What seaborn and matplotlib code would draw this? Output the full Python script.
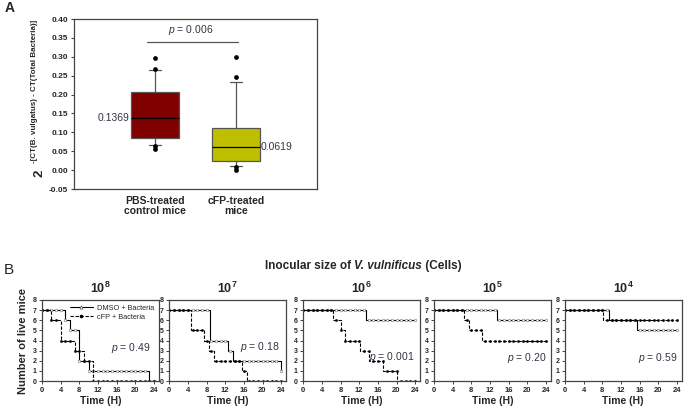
import numpy as np
import pandas as pd
import matplotlib
matplotlib.use('Agg')
import matplotlib.pyplot as plt
from matplotlib.lines import Line2D
import seaborn as sns

# ---------------- Panel A data ----------------
groups = ['PBS-treated\ncontrol mice', 'cFP-treated\nmice']
q1 = [0.085, 0.024]
medians = [0.1369, 0.0619]
q3 = [0.208, 0.112]
whislo = [0.067, 0.012]
whishi = [0.266, 0.234]
fliers = [[0.296, 0.267, 0.065, 0.055], [0.300, 0.246, 0.009, 0.001]]
median_labels = ['0.1369', '0.0619']
box_colors = ['#800000', '#BFBF00']
p_A = '0.006'

# ---------------- Panel B data ----------------
doses = ['8', '7', '6', '5', '4']
dmso_t = [[0, 5, 6, 8, 10, 23], [0, 8.7, 12.7, 13.7, 24], [0, 13.5], [0, 13.6], [0, 9.5, 15.5]]
dmso_n = [[7, 6, 5, 2, 1, 0], [7, 4, 3, 2, 1], [7, 6], [7, 6], [7, 6, 5]]
cfp_t = [[0, 2, 4, 7, 9, 11], [0, 4.6, 7.4, 8.6, 9.6, 15.7, 16.7],
         [0, 6.3, 8.0, 8.9, 12.2, 14.2, 17.2, 20.2], [0, 6.5, 7.6, 10.4], [0, 8.2]]
cfp_n = [[7, 6, 4, 3, 2, 0], [7, 5, 4, 3, 2, 1, 0], [7, 6, 5, 4, 3, 2, 1, 0], [7, 6, 5, 4], [7, 6]]
p_B = ['0.49', '0.18', '0.001', '0.20', '0.59']
p_pos = [(19, 3.3), (19.5, 3.4), (19, 2.4), (20, 2.3), (20, 2.3)]
end_time = 24
title_parts = ['Inocular size of ', 'V. vulnificus', ' (Cells)']

sns.set_style('ticks')
plt.rcParams['font.family'] = ['Liberation Sans', 'DejaVu Sans']
plt.rcParams['mathtext.fontset'] = 'custom'
plt.rcParams['mathtext.rm'] = 'Liberation Sans'
plt.rcParams['mathtext.it'] = 'Liberation Sans:italic'
plt.rcParams['mathtext.bf'] = 'Liberation Sans:bold'

W, H = 685, 408
fig = plt.figure(figsize=(W / 100, H / 100), dpi=100)

def fx(px):
    return px / W

def fy(py):
    return 1 - py / H

spine_col = '#444444'

# ---------------- Panel A ----------------
axA = fig.add_axes([fx(74), fy(189), fx(243), 170 / H])
stats = []
for i in range(len(groups)):
    stats.append(dict(med=medians[i], q1=q1[i], q3=q3[i], whislo=whislo[i],
                      whishi=whishi[i], fliers=fliers[i], label=groups[i]))
bp = axA.bxp(stats, positions=[0, 1], widths=0.59, patch_artist=True,
             boxprops=dict(edgecolor='#555555', linewidth=0.9),
             medianprops=dict(color='black', linewidth=0.9),
             whiskerprops=dict(color='#555555', linewidth=0.9),
             capprops=dict(color='#555555', linewidth=0.9),
             flierprops=dict(marker='o', markerfacecolor='black', markeredgecolor='black', markersize=2.4),
             capwidths=0.15)
for patch, c in zip(bp['boxes'], box_colors):
    patch.set_facecolor(c)
axA.set_xlim(-1, 2)
axA.set_ylim(-0.05, 0.40)
yt = np.round(np.arange(-0.05, 0.401, 0.05), 2)
axA.set_yticks(yt)
axA.set_yticklabels(['%.2f' % v for v in yt], fontsize=6, fontweight='bold')
axA.set_xticks([0, 1])
axA.set_xticklabels(groups, fontsize=7.5, fontweight='bold', linespacing=1.0)
axA.tick_params(axis='x', length=0, pad=5)
axA.tick_params(axis='y', length=2.5, width=0.8, pad=2, color=spine_col)
for s in axA.spines.values():
    s.set_color(spine_col)
    s.set_linewidth(0.9)
axA.plot([-0.1, 1.02], [0.34, 0.34], color='#555555', lw=0.9)
axA.text(0.44, 0.352, r'$\it{p}$ = ' + p_A, ha='center', va='bottom', fontsize=7.5, color='#333344')
axA.text(-0.31, medians[0], median_labels[0], ha='right', va='center', fontsize=7.5, color='#333344')
axA.text(1.31, medians[1], median_labels[1], ha='left', va='center', fontsize=7.5, color='#333344')
axA.set_ylabel('')

fig.text(fx(39.5), fy(173), '2', rotation=90, ha='center', va='center', fontsize=9.5, fontweight='bold')
fig.text(fx(34.5), fy(91), '-[CT(B. vulgatus) - CT(Total Bacteria)]', rotation=90,
         ha='center', va='center', fontsize=5.8, fontweight='bold')
fig.text(fx(5), fy(8), 'A', fontsize=10, fontweight='bold', ha='left', va='center')

# ---------------- Panel B ----------------
lefts = [42, 169.3, 303.3, 434, 565]
hours = np.arange(0, end_time + 1)
for i, d in enumerate(doses):
    ax = fig.add_axes([fx(lefts[i]), fy(381), fx(116.5), 81 / H])
    for tt, nn, ls, mfc, mec, ms in [(dmso_t[i], dmso_n[i], '-', 'white', '#777777', 1.9),
                                     (cfp_t[i], cfp_n[i], (0, (3, 1.5)), 'black', 'black', 1.5)]:
        df = pd.DataFrame({'t': list(tt) + [end_time], 'n': list(nn) + [nn[-1]]})
        sns.lineplot(data=df, x='t', y='n', ax=ax, drawstyle='steps-post', estimator=None,
                     sort=True, color='black', linewidth=0.8, linestyle=ls)
        idx = np.searchsorted(np.array(tt), hours, side='right') - 1
        vals = np.array(nn)[idx]
        ax.plot(hours, vals, linestyle='none', marker='o', markersize=ms,
                markerfacecolor=mfc, markeredgecolor=mec, markeredgewidth=0.4)
    ax.set_xlim(0, 25)
    ax.set_ylim(0, 8)
    ax.set_xticks(np.arange(0, 25, 4))
    ax.set_xticklabels([str(v) for v in range(0, 25, 4)], fontsize=5.5, fontweight='bold')
    ax.set_yticks(range(0, 9))
    ax.set_yticklabels([str(v) for v in range(0, 9)], fontsize=5, fontweight='bold')
    ax.tick_params(axis='both', length=2, width=0.7, pad=2, color=spine_col)
    for s in ax.spines.values():
        s.set_color(spine_col)
        s.set_linewidth(0.9)
    ax.set_xlabel('Time (H)', fontsize=7.5, fontweight='bold', labelpad=2)
    if i == 0:
        ax.set_ylabel('Number of live mice', fontsize=8, fontweight='bold', labelpad=3)
    else:
        ax.set_ylabel('')
    ax.set_title(r'$\mathbf{10^{' + d + r'}}$', fontsize=9, pad=5)
    ax.text(p_pos[i][0], p_pos[i][1], r'$\it{p}$ = ' + p_B[i], ha='center', va='center',
            fontsize=7.5, color='#333344')
    if i == 0:
        handles = [Line2D([], [], color='black', lw=0.8, marker='^', markersize=2.3,
                          markerfacecolor='white', markeredgecolor='#555555', markeredgewidth=0.5),
                   Line2D([], [], color='black', lw=0.8, linestyle=(0, (3, 1.5)), marker='o',
                          markersize=1.6, markerfacecolor='black')]
        ax.legend(handles, ['DMSO + Bacteria', 'cFP + Bacteria'], loc='upper right',
                  fontsize=5.3, frameon=False, handlelength=3.2, handletextpad=0.5,
                  borderaxespad=0.2, labelspacing=0.3, markerfirst=True)

# Super title with italic species name, built from three pieces
renderer = fig.canvas.get_renderer()
styles = ['normal', 'italic', 'normal']
pieces = []
for txt, st in zip(title_parts, styles):
    t = fig.text(0, fy(266), txt, fontsize=8.5, fontweight='bold', style=st, ha='left', va='center')
    pieces.append(t)
widths = [p.get_window_extent(renderer=renderer).width for p in pieces]
x0 = 363 - sum(widths) / 2
for p, w in zip(pieces, widths):
    p.set_x(fx(x0))
    x0 += w
fig.text(fx(4), fy(270), 'B', fontsize=11, ha='left', va='center')

fig.savefig('out.png', dpi=100)
